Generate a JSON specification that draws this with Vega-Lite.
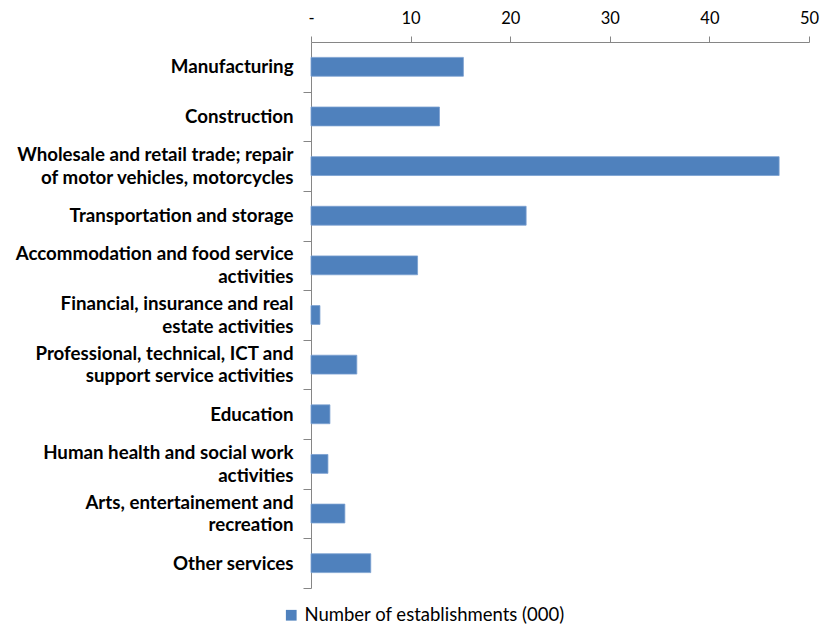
{
  "$schema": "https://vega.github.io/schema/vega-lite/v6.json",
  "autosize": "none",
  "width": 498,
  "height": 546,
  "padding": {"left": 311, "top": 42, "right": 14, "bottom": 41},
  "background": "white",
  "data": {
    "values": [
      {"sector": "Manufacturing", "value": 15.3},
      {"sector": "Construction", "value": 12.9},
      {"sector": "Wholesale and retail trade; repair|of motor vehicles, motorcycles", "value": 47.0},
      {"sector": "Transportation and storage", "value": 21.6},
      {"sector": "Accommodation and food service|activities", "value": 10.7},
      {"sector": "Financial, insurance and real|estate activities", "value": 0.9},
      {"sector": "Professional, technical, ICT and|support service activities", "value": 4.6},
      {"sector": "Education", "value": 1.9},
      {"sector": "Human health and social work|activities", "value": 1.7},
      {"sector": "Arts, entertainement and|recreation", "value": 3.4},
      {"sector": "Other services", "value": 6.0}
    ]
  },
  "mark": {"type": "bar", "stroke": "#7a9fd0", "strokeWidth": 0.8},
  "encoding": {
    "y": {
      "field": "sector",
      "type": "nominal",
      "sort": null,
      "scale": {"paddingInner": 0.62, "paddingOuter": 0.31},
      "axis": {
        "title": null,
        "labelExpr": "split(datum.label, '|')",
        "labelFont": "Lato",
        "labelFontWeight": "bold",
        "labelFontSize": 18.7,
        "labelColor": "#000000",
        "labelLineHeight": 22.7,
        "labelLimit": 320,
        "labelPadding": 10,
        "ticks": true,
        "tickOffset": 24.82,
        "labelOffset": {"condition": {"test": "indexof(datum.value, '|') >= 0", "value": -36.2}, "value": -24.82},
        "tickSize": 8,
        "tickWidth": 1,
        "tickColor": "#868686",
        "domainColor": "#868686"
      }
    },
    "x": {
      "field": "value",
      "type": "quantitative",
      "scale": {"domain": [0, 50], "nice": false},
      "axis": {
        "orient": "top",
        "title": null,
        "values": [0, 10, 20, 30, 40, 50],
        "labelExpr": "datum.value == 0 ? '-' : datum.label",
        "labelFlush": false,
        "labelFont": "Lato",
        "labelFontSize": 16.5,
        "labelColor": "#000000",
        "labelPadding": 10,
        "grid": false,
        "tickSize": 6,
        "tickColor": "#868686",
        "domainColor": "#868686"
      }
    },
    "color": {
      "datum": "Number of establishments (000)",
      "type": "nominal",
      "scale": {"range": ["#4f81bd"]},
      "legend": {
        "title": null,
        "orient": "none",
        "legendX": -29,
        "legendY": 564,
        "symbolType": "square",
        "symbolSize": 115,
        "symbolStrokeWidth": 0,
        "labelFont": "Lato",
        "labelFontSize": 18.5,
        "labelLimit": 400,
        "labelOffset": 4,
        "labelColor": "#000000"
      }
    }
  },
  "config": {
    "view": {"stroke": null}
  }
}
